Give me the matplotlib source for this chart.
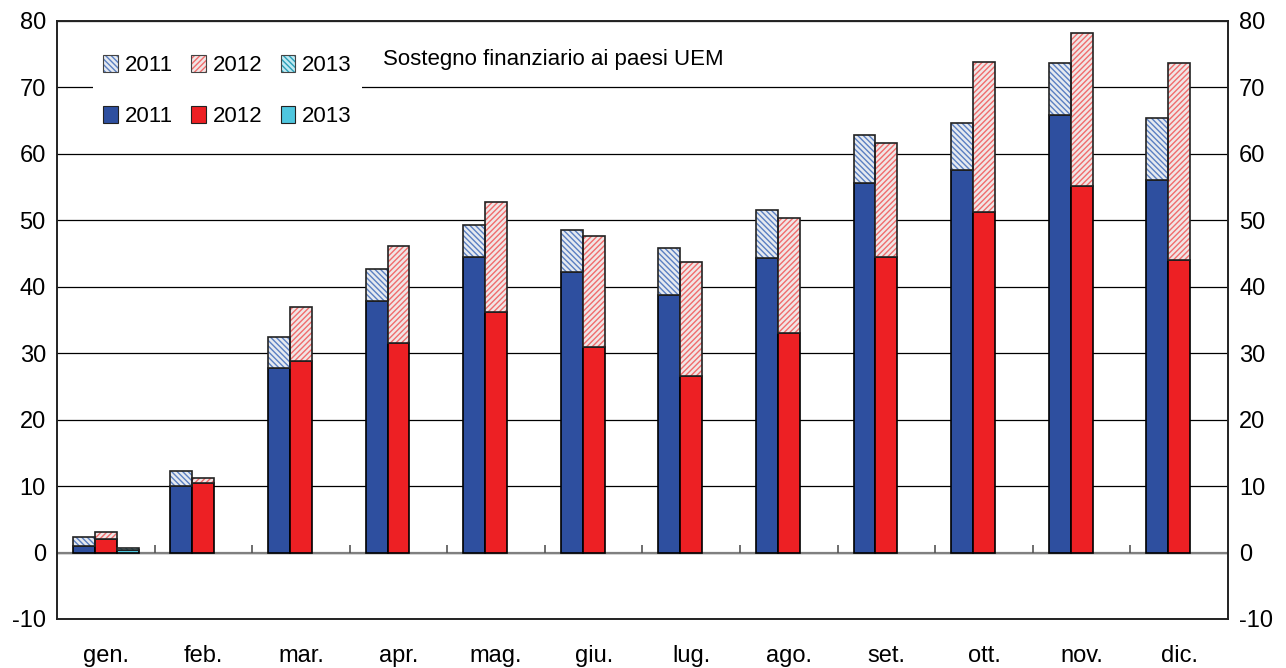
import numpy as np
import matplotlib
matplotlib.use("Agg")
import matplotlib.pyplot as plt
from matplotlib.patches import Patch

plt.rcParams["font.family"] = ["Liberation Sans", "DejaVu Sans"]
plt.rcParams["axes.unicode_minus"] = False
plt.rcParams["hatch.linewidth"] = 1.0

MONTHS = ["gen.", "feb.", "mar.", "apr.", "mag.", "giu.", "lug.", "ago.",
          "set.", "ott.", "nov.", "dic."]

# solid part and total (solid + financial support to EMU countries)
solid_2011 = [0.95, 10.0, 27.7, 37.9, 44.5, 42.2, 38.8, 44.4, 55.6, 57.5, 65.8, 56.1]
total_2011 = [2.36, 12.2, 32.4, 42.7, 49.3, 48.5, 45.9, 51.6, 62.85, 64.7, 73.6, 65.4]
solid_2012 = [2.06, 10.4, 28.8, 31.6, 36.2, 30.9, 26.6, 33.1, 44.5, 51.2, 55.2, 44.1]
total_2012 = [3.1, 11.2, 36.9, 46.2, 52.7, 47.6, 43.8, 50.3, 61.7, 73.8, 78.2, 73.6]
solid_2013 = [0.35]
total_2013 = [0.7]

BLUE, RED, TEAL = "#2e4f9f", "#ed2024", "#4fc6de"
BLUE_H, RED_H, TEAL_H = "#5a7fc2", "#f06c6c", "#2a9fb8"
BLUE_BG, RED_BG, TEAL_BG = "#e6eaf0", "#f0e6e6", "#bfe9f2"
HATCH_B, HATCH_F = "\\" * 6, "/" * 6

W = 0.225

fig = plt.figure(figsize=(12.86, 6.68), dpi=100)
ax = fig.add_axes([0.0443, 0.0734, 0.9106, 0.8952])


def draw(xpos, solid, total, col, hcol, bg, hatch):
    solid = np.array(solid)
    extra = np.array(total) - solid
    ax.bar(xpos, solid, W, color=col, edgecolor="black", lw=1.2, zorder=3)
    ax.bar(xpos, extra, W, bottom=solid, color=bg, edgecolor=hcol,
           hatch=hatch, lw=0, zorder=3)
    ax.bar(xpos, extra, W, bottom=solid, fill=False, edgecolor="#222222",
           lw=1.2, zorder=4)


x = np.arange(len(MONTHS))
draw(x - W, solid_2011, total_2011, BLUE, BLUE_H, BLUE_BG, HATCH_B)
draw(x, solid_2012, total_2012, RED, RED_H, RED_BG, HATCH_F)
draw(x[:len(solid_2013)] + W, solid_2013, total_2013, TEAL, TEAL_H, TEAL_BG, HATCH_B)

ax.set_xlim(-0.5, len(MONTHS) - 0.5)
ax.set_ylim(-10, 80)
ax.set_yticks(range(-10, 81, 10))
ax.grid(axis="y", color="black", lw=0.9, zorder=0)
ax.axhline(0, color="#808080", lw=1.6, zorder=2)
ax.vlines(x[:-1] + 0.5, 0, 1.1, color="#555555", lw=1.2, zorder=2)

ax.set_xticks(x)
ax.set_xticklabels(MONTHS)
ax.tick_params(axis="x", length=0, pad=19, labelsize=17)
ax.tick_params(axis="y", length=0, pad=8, labelsize=17,
               labelright=True, right=False)
for sp in ax.spines.values():
    sp.set_color("#222222")
    sp.set_linewidth(1.4)


def box(fc, ec, hatch=None):
    if hatch:
        return (Patch(facecolor=fc, edgecolor=ec, hatch=hatch, lw=0),
                Patch(fill=False, edgecolor="#444444", lw=0.8))
    return Patch(facecolor=fc, edgecolor="#222222", lw=0.8)


handles = [
    box(BLUE_BG, BLUE_H, HATCH_B), box(BLUE, None),
    box(RED_BG, RED_H, HATCH_F), box(RED, None),
    box(TEAL_BG, TEAL_H, HATCH_B), box(TEAL, None),
]
labels = ["2011", "2011", "2012", "2012", "2013", "2013"]
leg = ax.legend(handles, labels, ncol=3, loc="upper left",
                bbox_to_anchor=(0.031, 0.960), fontsize=16, frameon=True,
                facecolor="white", edgecolor="none", fancybox=False,
                framealpha=1, handlelength=0.65, handleheight=0.8,
                handletextpad=0.3, columnspacing=0.85, labelspacing=1.35,
                borderpad=0.45, borderaxespad=0)
leg.set_zorder(5)

ax.text(0.278, 0.935, "Sostegno finanziario ai paesi UEM", transform=ax.transAxes,
        fontsize=16, va="center", ha="left", zorder=6)

fig.savefig("out.png", dpi=100)
